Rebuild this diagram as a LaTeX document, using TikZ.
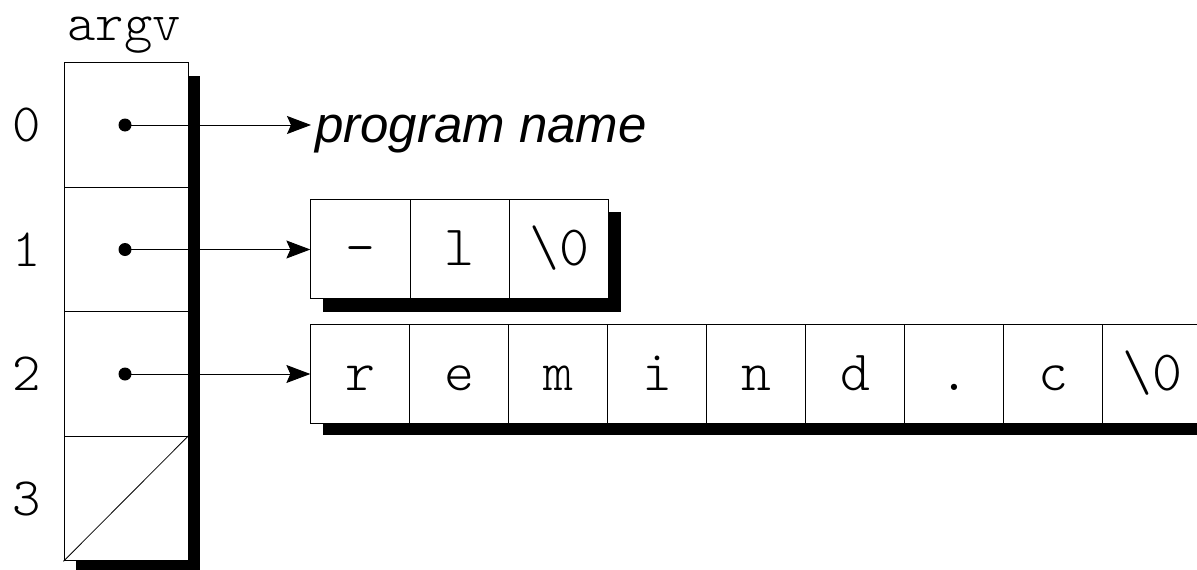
\documentclass[tikz,border=0pt]{standalone}
\usepackage{fontspec}
\setsansfont{Liberation Sans}
\setmonofont{Latin Modern Mono Light}
\usetikzlibrary{arrows.meta, positioning, calc}

\begin{document}
\begin{tikzpicture}[x=1pt, y=-1pt,
    slot/.style={draw, line width=1pt, fill=white, minimum width=124pt, minimum height=124.5pt, inner sep=0pt},
    chr/.style={draw, line width=1pt, fill=white, minimum width=99.3pt, minimum height=99pt, inner sep=0pt,
      font=\fontsize{57}{57}\selectfont\ttfamily, text height=38pt, text depth=4pt},
    lbl/.style={font=\fontsize{54}{54}\selectfont\ttfamily},
    ptr/.style={line width=1pt, -{Stealth[length=24pt,width=18pt,inset=4pt]}}]
  \useasboundingbox (0,0) rectangle (1197,570);
  \clip (0,0) rectangle (1197,570);
  % shadows
  \fill (76,76) rectangle (200,575);
  \fill (323,212) rectangle (621,312);
  \fill (323,336) rectangle (1215,435);
  % argv array
  \foreach \i in {0,...,3}{
    \node[slot] (a\i) at (126,125+124.5*\i) {};
    \node[lbl] (n\i) at (27,125+124.5*\i) {\i};
  }
  \node[lbl, anchor=base] (argv) at (124,40) {argv};
  \draw[line width=0.8pt] (a3.south west) -- (a3.north east);
  % strings
  \foreach \c [count=\j] in {-,l,{\textbackslash 0}}
    \node[chr] (b\j) at (360.5+99.3*\j-99.3,248.5) {\c};
  \foreach \c [count=\j] in {r,e,m,i,n,d,.,c,{\textbackslash 0}}
    \node[chr] (c\j) at (360.5+99*\j-99,373.5) {\c};
  \node[font=\fontsize{51}{51}\selectfont\sffamily\itshape, anchor=base west, inner xsep=4pt] (pname) at (311,142) {program name};
  % pointers
  \foreach \i in {0,1,2}{
    \coordinate (d\i) at ([xshift=-1pt]a\i.center);
    \fill (d\i) circle (6.5pt);
  }
  \draw[ptr] (d0) -- (d0 -| pname.west);
  \draw[ptr] (d1) -- (d1 -| b1.west);
  \draw[ptr] (d2) -- (d2 -| c1.west);
\end{tikzpicture}
\end{document}
